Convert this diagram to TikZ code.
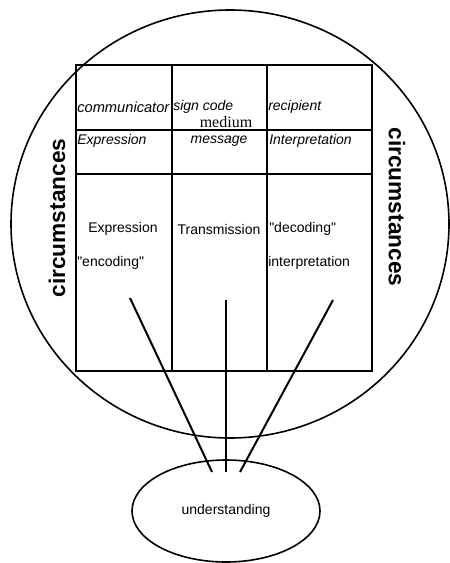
\documentclass[tikz,border=0pt]{standalone}
\usepackage{fontspec}
\usetikzlibrary{shapes.geometric}
\setmainfont{Liberation Sans}
\newfontfamily\serifm{Liberation Serif}
\begin{document}
\begin{tikzpicture}[x=0.75pt,y=-0.75pt,
  frame/.style={line width=1.4pt},
  ring/.style={line width=1.2pt},
  link/.style={line width=1.5pt},
  cellit/.style={font=\fontsize{10.5}{12}\selectfont\itshape, inner sep=0pt, anchor=west},
  cellup/.style={font=\fontsize{10.5}{12}\selectfont, inner sep=0pt, anchor=west},
  side/.style={font=\fontsize{17}{20}\selectfont\bfseries, inner sep=0pt}]
\useasboundingbox (0,0) rectangle (449,563);
% big circle
\draw[ring] (230,224) ellipse [x radius=219, y radius=214];
% table
\draw[frame] (76,65) rectangle (372,371);
\draw[frame] (172,65) -- (172,371);
\draw[frame] (267,65) -- (267,371);
\draw[frame] (76,130) -- (372,130);
\draw[frame] (76,174) -- (372,174);
% row 1
\node[cellit, font=\fontsize{11}{12}\selectfont\itshape] (comm) at (77,107) {communicator};
\node[cellit] (sign) at (173,107) {sign code};
\node[font=\serifm\fontsize{12}{12}\selectfont, inner sep=0pt] (med) at (226,122) {medium};
\node[cellit] (reci) at (268,107) {recipient};
% row 2
\node[cellit] (expr1) at (77,141) {Expression};
\node[font=\fontsize{10.5}{12}\selectfont\itshape, inner sep=0pt] (mess) at (219,141) {message};
\node[cellit] (interp1) at (269,141) {Interpretation};
% row 3
\node[font=\fontsize{10.5}{12}\selectfont, inner sep=0pt] (expr2) at (123,229) {Expression};
\node[cellup] (enc) at (77,263) {\textquotedbl encoding\textquotedbl};
\node[font=\fontsize{10.5}{12}\selectfont, inner sep=0pt] (trans) at (219,229) {Transmission};
\node[cellup] (dec) at (269,229) {\textquotedbl decoding\textquotedbl};
\node[cellup] (interp2) at (268,263) {interpretation};
% side labels
\node[side, rotate=90] (cl) at (57,218) {circumstances};
\node[side, rotate=-90] (cr) at (397,207) {circumstances};
% understanding ellipse
\node[draw, ring, ellipse, minimum width=141pt, minimum height=76.5pt, inner sep=0pt,
      font=\fontsize{10.5}{12}\selectfont] (und) at (226,511) {understanding};
% connectors
\coordinate (l1) at (130,298);
\coordinate (l2) at (226,300);
\coordinate (l3) at (333,300);
\coordinate (e1) at (212,472);
\coordinate (e2) at (226,472);
\coordinate (e3) at (240,472);
\draw[link] (l1) -- (e1);
\draw[link] (l2) -- (e2);
\draw[link] (l3) -- (e3);
\end{tikzpicture}
\end{document}
